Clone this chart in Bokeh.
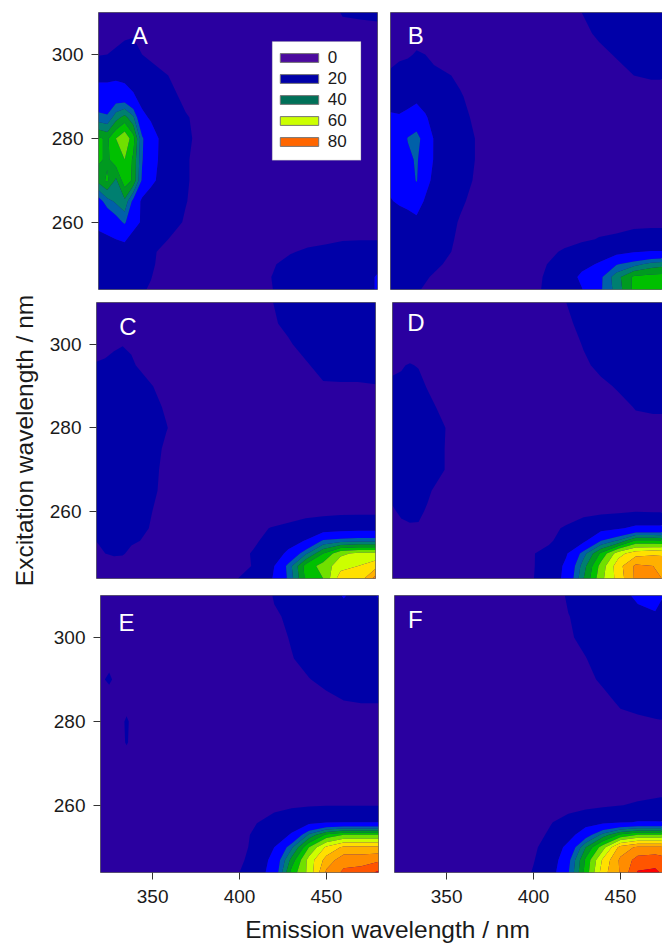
from bokeh.plotting import figure
from bokeh.layouts import column, row
from bokeh.models import BoxAnnotation, FixedTicker, Label, Legend, LegendItem
from bokeh.embed import file_html
from bokeh.resources import INLINE
import numpy as np

emission = [320,325,330,335,340,345,350,360,370,385,400,410,420,430,440,450,460,470,480]
excitation = [310,305,300,295,290,285,280,275,270,265,260,256,253,250,247,244]
x_ticks = [350,400,450]
y_ticks = [260,280,300]
levels = [0,10,20,30,35,40,45,50,55,60,65,70,75,80,100]
band_colors = ["#2a00a0","#0000a8","#0000ff","#0060a8","#007f70","#009a20","#00c000","#70e000",
               "#ccff00","#ffe000","#ffb000","#ff8c00","#ff5500","#ff0000"]
legend_labels = ["0","20","40","60","80"]
legend_colors = ["#4b0a9e","#0000a8","#007058","#ccff00","#ff6600"]

panel_a = [
 [6,6,7,7,7,6,6,6,5,5, 5,5,5,5,6,7,10.5,11,11.5],
 [8,8,8,9,9.5,9,7,6,5,5, 5,5,5,5,6,7,8,8,8],
 [9.5,10,11,12,12,10,8.5,7,6,5, 5,5,5,5,5,5,6,6,6],
 [18,18,18,17,16,14,13,10,8,6, 5,5,5,5,5,5,6,6,6],
 [24,24,26,25,21,17,15,12,8.5,6, 5,5,5,5,5,5,6,6,6],
 [32,31,38,42,36,22,19,14,10.5,7, 5,5,5,5,5,5,6,6,6],
 [46,44,50,54,47,31,24,15,11,7, 5,5,5,5,5,5,6,6,6],
 [46,44,48,50,44,30.5,23.5,15,10.5,7, 5,5,5,5,5,5,6,6,6],
 [42,46,39,48,44,29,22,15,10.5,7, 5,5,5,5,5,5,6,6,6],
 [27,33,36,39,28,18,16,13,10.2,7, 5,5,5,5,5,5,6,6,6],
 [22,23,27,31,23,19,15,12,9.5,6, 5,5,5,5,5,5,6,6,6],
 [18,19,20,21,17,14,12,10,7,5, 5,6,7,8,8,8.5,9.5,9.7,9.7],
 [16,16,17,17,14,13,11,8,6,5, 6,7,8,9.5,11,12,13,13,13],
 [14,14,14,14,13,12,11,7,6,5, 6,7,9.5,12,14,15,15,15,17],
 [12,12,12,12,12,11,10.2,7,6,5, 6,8,10.2,13,14,14,14,15,21],
 [12,12,12,12,11,10.5,9.5,7,6,5, 6,8,10,12,13,13,13,15,21],
]
panel_b = [
 [6,6,6,6,6,6,6,6,5,5, 5,5,8,10,12,13,14,14,14],
 [7,8,8,8,8,7,6,6,5,5, 5,5,7,8.5,11,13,14,14,14],
 [8,9,9.3,10.5,10,8,7,6,5,5, 5,5,6,7,8.5,10.5,12,12,12],
 [11,12,13,14,13,12,11,9,7,6, 5,5,5,6,7,8,10,10.5,10.5],
 [14,15,17,18,16,14,13,10.5,8,6, 5,5,5,5,6,7,8,8,8],
 [22,21,22,24,21,17,15,12,8.5,6, 5,5,5,5,5,6,7,7,7],
 [24,24,30.5,33,26,19.5,16,13,9.5,6.5, 5,5,5,5,5,5,6,6,6],
 [23,23,28,31,25,19.5,16,13,9.5,6.5, 5,5,5,5,5,5,6,6,6],
 [22,23,26,30.5,23,18,15,12,9.2,6, 5,5,5,5,5,5,6,6,6],
 [19.5,21,22,24,19,16,14,11,8,6, 5,5,5,5,5,5,6,6,6],
 [16,16,17,18,16,14,13,9.5,7.5,5, 5,6,6,7,8,8,9,9,9],
 [14,14,14,15,14,13,12,9,7,5, 6,7,8,9,10.3,11,11.5,12,12],
 [12,13,13,13,13,12,11.5,8.5,7,5, 7,8.5,10.8,13,15,17,19.5,20.5,20.5],
 [12,12,12,12,12,11,10,7,6,5, 8,10,13,17,21,29.5,33,37,39],
 [11,11,11,11,10.5,9.5,8,7,6,5, 8.5,10.5,14,22,28,38,46,47,47],
 [10.5,10.5,10.5,10.5,9.5,8.5,7.5,7,6,5, 8,11,15,19.5,28.5,37,46,47,47],
]
panel_c = [
 [7,7,7,7,7,7,6,6,5,5, 5,6,9.7,12,13,13,13,13,13],
 [8,8,8,8,8,8,7,6,5,5, 5,6,9.3,11,13,13,13,13,13],
 [9,9,9.5,9.9,9.5,8,7,6,5,5, 5,5,8,9.5,11.5,13,13,13,13],
 [10.2,10.5,11,11,10.5,9.5,8.5,7,6,5, 5,5,6,8,9.5,11.5,12,12,12],
 [11,11.5,12,12,12,11.5,10.5,8.5,7,5, 5,5,6,7,8.5,9.5,9.5,9.5,9.8],
 [12,12,13,13,13,12,11.5,9.5,7,5, 5,5,5,6,7,8,8,8,8],
 [13,13,14,14,14,13,12,10.2,8,6, 5,5,5,5,5,5,5,6,6],
 [13,13,14,14,13,12,12,9.3,7,5, 5,5,5,5,5,5,5,6,6],
 [13,13,13,13,13,12,11,9.3,7,5, 5,5,5,5,5,5,5,6,6],
 [12,12,13,13,13,12,11,9,7,5, 5,5,5,5,5,5,5,6,6],
 [11,12,12,12,12,11,10.5,8,6,5, 5,5,6,7,8,8,8.5,8.5,8.5],
 [10.5,11,11,11,11,10.3,10,7,6,5, 6,8,10.3,11.5,13,15,16,16.5,16.5],
 [10.05,10.5,10.5,10.5,10.3,10,9,7,6,5, 7,9,12,16,20.5,31,33,34,34],
 [9,10,10.3,10.2,9.5,9,8,7,6,5, 8,10.5,14,22,34,45,54,56,56],
 [8.5,8.5,9,9,8.5,8,7.5,7,6,5, 8,10.3,17,32,47,52,58,60,63],
 [8,8,8,8,8,7,7,6,5,5, 9.5,14,19,31,46,50,63,61,72],
]
panel_d = [
 [7,7,7,7,7,6,6,6,5,5, 5,6,10,12,13,13,13,13,13],
 [7,7,7,7,7,7,6,6,5,5, 5,6,9,11.5,13,13,13,13,13],
 [8,8,8,8,8,7,6.5,6,5,5, 5,5,8,10.3,12.5,13,13,13,13],
 [9.5,9.8,10.2,9.8,9,8,7,6,5,5, 5,5,7,9.3,11,12.5,13,13,13],
 [10.5,10.5,11,11,9.8,9.5,8.5,7,6,5, 5,5,6,8,9.2,10.4,12,12,12],
 [11,11,12,12,11,10,9,7,6,5, 5,5,5,7,8,9,10.2,10.5,10.5],
 [12,12,13,13,12,11,10.1,8,6,5, 5,5,5,6,7,8,9,9,9],
 [12,12,13,13,12,11,10,8,6,5, 5,5,5,5,5,6,6,6,7],
 [12,12,12,12,12,11,10,8,6,5, 5,5,5,5,5,6,6,6,7],
 [11,11,11,11,10.5,9.5,8.5,7,6,5, 5,5,5,5,5,6,6,6,7],
 [9.6,10.5,10.6,10.5,9.7,8.7,8,7,6,5, 5,5,6,8,8.5,9,9.8,9.6,9.6],
 [8.5,9.3,9.7,9.7,9,8.5,8,7,6,5, 6,8,11,14,17,19,22,22,22],
 [8,8,8,8,8,8,7,7,6,5, 7,9,13,18,30,36,46,46,45],
 [8,8,8,8,7,7,7,6,6,5, 9.5,12,19,33,46,58,63,64,64],
 [8,8,8,7,7,7,7,6,6,5, 9.3,13,22,38,52,63,71,70,68],
 [8,7,7,7,7,7,6,6,5,5, 9.5,13,23,40,53.5,62,71,72,68],
]
panel_e = [
 [8,8,8,8,8,7,7,6,6,5, 5,6,10.5,12,13,13,21,14,21],
 [8,8,8,8,8,8,7,6,6,5, 5,6,9.3,11,13,14,14,14,14],
 [8,8,8,8,8,8,7,7,6,5, 5,5,8,10.5,13,14,14,14,14],
 [8.5,9,8.5,8,8,8,7,7,6,5, 5,5,7,9.7,12,14,14,14,14],
 [9.5,10.5,9,8.5,8,8,7,7,6,5, 5,5,6,8,9.8,11.5,13,13,13],
 [8.5,8.5,8.5,8.5,8.5,8,7,7,6,5, 5,5,5,7,8,8.7,10,10.3,10.3],
 [8,8,8.5,10.5,8.5,8,7,7,6,5, 5,5,5,6,7,8,8,8,8],
 [8,8,8.5,10.3,8.5,8,7,7,6,5, 5,5,5,5,5,6,6,6,6],
 [8,8,8,8,8,8,7,7,6,5, 5,5,5,5,5,6,6,6,6],
 [8,8,8,8,8,8,7,7,6,5, 5,5,5,5,5,6,6,6,6],
 [8,8,8,8,8,8,7,6,6,5, 5,6.5,8.5,9,9.5,9.8,9.8,9.8,9.8],
 [8,8,8,8,8,8,7,6,6,5, 6,9.8,12,15,17,19,19.5,19.5,19.8],
 [8,8,8,8,8,7,7,6,6,5, 7,12,14,21,36,46,50,50,50],
 [8,8,8,8,8,7,7,6,6,5, 8,12,20,34,50,61,66,66,66],
 [8,8,8,8,7,7,7,6,6,5, 9,12.5,24,42,57,67,73,73,74],
 [8,8,8,7,7,7,7,6,5,5, 10,15,25,47,56.5,71,76,77,81],
]
panel_f = [
 [8,8,8,8,8,7,7,6,6,5, 5,6,11,13,14,17,22,23,17],
 [8,8,8,8,8,8,7,6,6,5, 5,6,9.8,12,14,15,17,19,15],
 [8,8,8,8,8,8,7,7,6,5, 5,5,9,12,14,15,15,15,15],
 [8,8,8,8,8,8,7,7,6,5, 5,5,8,9.8,13,15,15,15,15],
 [8,8,8,8,8,8,7,7,6,5, 5,5,6,8.5,11,13,14,14,14],
 [8,8,8,8,8,8,7,7,6,5, 5,5,5,7,8.5,11,12,12,12],
 [8,8,8,8,8,8,7,7,6,5, 5,5,5,6,7.5,8.5,9,9.7,10.1],
 [8,8,8,8,8,8,7,7,6,5, 5,5,5,6,6,7,7,7,8],
 [8,8,8,8,8,8,7,7,6,5, 5,5,5,5,5,6,6,6,7],
 [8,8,8,8,8,8,7,7,6,5, 5,5,5,5,6,7,8,8,8.5],
 [8,8,8,8,8,8,7,6,6,5, 5,6,7.5,8,9,9.9,10.5,11,11.5],
 [8,8,8,8,8,8,7,6,6,5, 7,9.7,12.5,16,18,19,20.5,20.5,20],
 [8,8,8,8,8,7,7,6,6,5, 8,11,16,26,37,46,50,50,50],
 [8,8,8,8,8,7,7,6,6,5, 9,13,23,40,53,67,71,71,71],
 [8,8,8,8,7,7,7,6,6,5, 9.7,14,28,46,61,71,77,78,76],
 [8,8,8,7,7,7,7,6,5,5, 10.5,16,29.5,47,63,70.5,80.5,81,77],
]

FONT = "Liberation Sans"

def panel(z, letter, letter_xy, width, height, borders, x_end, left=False, below=False, y_label=None):
    bl, br, bt, bb = borders
    p = figure(width=width, height=height, x_range=(320, x_end), y_range=(244, 310),
               output_backend="svg", toolbar_location=None,
               min_border_left=bl, min_border_right=br, min_border_top=bt, min_border_bottom=bb)
    p.grid.visible = False
    p.outline_line_color = "#666666"
    p.outline_line_width = 1
    p.background_fill_color = band_colors[0]
    p.contour(emission, excitation[::-1], np.array(z)[::-1], levels,
              fill_color=band_colors, line_color=None)
    for ax, ticks, vis in ((p.xaxis[0], x_ticks, below), (p.yaxis[0], y_ticks, left)):
        ax.visible = vis
        ax.ticker = FixedTicker(ticks=ticks)
        ax.axis_line_color = None
        ax.major_tick_in = 0
        ax.major_tick_out = 7
        ax.minor_tick_line_color = None
        ax.major_tick_line_color = "#333333"
        ax.major_tick_line_width = 1
        ax.major_label_text_font = FONT
        ax.major_label_text_font_size = "19px"
        ax.major_label_text_color = "#1a1a1a"
        ax.major_label_standoff = 8
    p.xaxis[0].major_label_standoff = 10
    p.yaxis[0].major_label_orientation = "horizontal"
    if y_label:
        p.yaxis[0].axis_label = y_label
        p.yaxis[0].axis_label_text_font = FONT
        p.yaxis[0].axis_label_text_font_size = "24.5px"
        p.yaxis[0].axis_label_text_font_style = "normal"
        p.yaxis[0].axis_label_text_color = "#1a1a1a"
        p.yaxis[0].axis_label_standoff = 9
    p.add_layout(Label(x=letter_xy[0], y=letter_xy[1], text=letter, text_color="white",
                       text_font=FONT, text_font_size="24px", text_align="center",
                       text_baseline="middle"))
    return p

pa = panel(panel_a, "A", (343.6, 304.5), 384, 295, (98, 7, 11, 6), 480, left=True)
pb = panel(panel_b, "B", (334.5, 304.5), 278, 295, (6, 0, 12, 5), 476.5)
pc = panel(panel_c, "C", (338, 304.3), 384, 295, (96, 9, 6, 12), 480, left=True,
           y_label="Excitation wavelength / nm")
pd_ = panel(panel_d, "D", (333.5, 305.3), 278, 295, (8, 0, 7, 11), 475.4)
pe = panel(panel_e, "E", (335, 303.6), 384, 322, (100, 6, 5, 40), 480, left=True, below=True)
pf = panel(panel_f, "F", (332, 304.3), 278, 322, (10, 0, 5, 40), 474.2, below=True)

pa.add_layout(BoxAnnotation(left=419.6, right=470.5, top=303.1, bottom=274.8, fill_color="white",
                            fill_alpha=1, line_color="#888888", line_width=1))
swatches = [pa.quad(left=[float("nan")], right=[float("nan")], top=[float("nan")], bottom=[float("nan")],
                    fill_color=c, line_color="#777777")
            for c in legend_colors]
legend = Legend(items=[LegendItem(label=t, renderers=[r]) for t, r in zip(legend_labels, swatches)],
                location=(176.7, 137), orientation="vertical", padding=0, margin=0, spacing=0,
                glyph_width=48, glyph_height=11, label_height=21, label_width=27, label_standoff=5,
                label_text_font=FONT, label_text_font_size="17px", label_text_color="#1a1a1a",
                border_line_color=None, background_fill_alpha=0)
pa.add_layout(legend)

strip = figure(width=662, height=31, x_range=(0, 662), y_range=(0, 31), output_backend="svg",
               toolbar_location=None, min_border=0, outline_line_color=None)
strip.axis.visible = False
strip.grid.visible = False
strip.add_layout(Label(x=387, y=14, text="Emission wavelength / nm", text_color="#1a1a1a",
                       text_font=FONT, text_font_size="24.5px", text_align="center",
                       text_baseline="middle"))

page = column(row(pa, pb, spacing=0), row(pc, pd_, spacing=0), row(pe, pf, spacing=0), strip, spacing=0)
open("out.html", "w").write(file_html(page, INLINE))
